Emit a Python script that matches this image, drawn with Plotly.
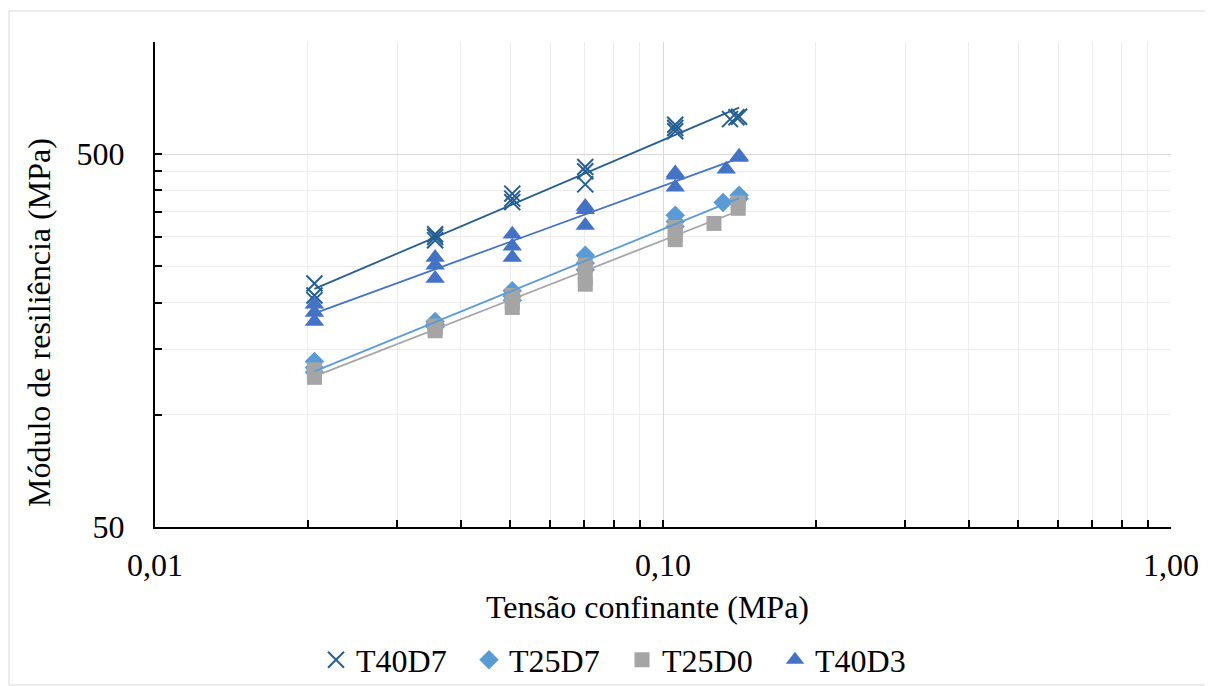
import numpy as np
import plotly.graph_objects as go

# ---- data ----
x_T40D7 = [0.0206, 0.0206, 0.0206, 0.0356, 0.0356, 0.0356, 0.0505, 0.0505, 0.0505,
           0.0703, 0.0703, 0.0703, 0.1057, 0.1057, 0.1057, 0.1355, 0.1395, 0.1412]
y_T40D7 = [225, 209, 203, 305, 300, 294, 392, 380, 372,
           462, 450, 415, 600, 588, 576, 621, 628, 630]

x_T25D7 = [0.0206, 0.0206, 0.0206, 0.0356, 0.0356, 0.0356, 0.0505, 0.0505, 0.0505,
           0.0703, 0.0703, 0.0703, 0.1057, 0.1057, 0.1057, 0.1313, 0.1412, 0.1412]
y_T25D7 = [139, 134, 130, 178, 175, 172, 215, 208, 203,
           268, 255, 245, 343, 330, 320, 371, 388, 380]

x_T25D0 = [0.0206, 0.0206, 0.0206, 0.0356, 0.0356, 0.0356, 0.0505, 0.0505, 0.0505,
           0.0703, 0.0703, 0.0703, 0.1057, 0.1057, 0.1057, 0.1260, 0.1406, 0.1406]
y_T25D0 = [132, 128, 126, 173, 170, 168, 209, 200, 194,
           252, 233, 224, 318, 305, 295, 326, 370, 358]

x_T40D3 = [0.0206, 0.0206, 0.0206, 0.0356, 0.0356, 0.0356, 0.0505, 0.0505, 0.0505,
           0.0703, 0.0703, 0.0703, 0.1057, 0.1057, 0.1057, 0.1332, 0.1412, 0.1412]
y_T40D3 = [198, 188, 178, 264, 252, 232, 305, 283, 264,
           362, 355, 322, 445, 439, 408, 456, 494, 490]

x_major = [0.01, 0.1, 1.0]
x_major_text = ["0,01", "0,10", "1,00"]
x_minor = [0.02, 0.03, 0.04, 0.05, 0.06, 0.07, 0.08, 0.09,
           0.2, 0.3, 0.4, 0.5, 0.6, 0.7, 0.8, 0.9]
y_major = [50, 500]
y_major_text = ["50", "500"]
y_minor = [100, 150, 200, 250, 300, 350, 400, 450, 1000]

series = [
    ("T40D7", x_T40D7, y_T40D7, "#255E91", "x-thin", 16),
    ("T25D7", x_T25D7, y_T25D7, "#5B9BD5", "diamond", 15),
    ("T25D0", x_T25D0, y_T25D0, "#A5A5A5", "square", 15),
    ("T40D3", x_T40D3, y_T40D3, "#4472C4", "triangle-up", 17),
]

FONT = "Liberation Serif, Times New Roman, serif"
FS = 32
fig = go.Figure()

for name, xs, ys, col, sym, sz in series:
    marker = dict(symbol=sym, size=sz, color=col)
    if sym == "x-thin":
        marker["line"] = dict(color=col, width=2)
    else:
        marker["line"] = dict(width=0)
    fig.add_trace(go.Scatter(x=xs, y=ys, mode="markers", name=name, marker=marker))

# power trendlines (fit in log-log space)
for name, xs, ys, col, sym, sz in series:
    lx = np.log10(np.array(xs))
    ly = np.log10(np.array(ys))
    m, b = np.polyfit(lx, ly, 1)
    xe = np.array([min(xs), max(xs)])
    ye = 10 ** (b + m * np.log10(xe))
    fig.add_trace(go.Scatter(x=xe, y=ye, mode="lines", showlegend=False,
                             line=dict(color=col, width=1.8), hoverinfo="skip"))

axis_common = dict(
    type="log", showline=True, linecolor="black", linewidth=2,
    ticks="inside", ticklen=7, tickwidth=2, tickcolor="black",
    showgrid=True, gridcolor="#D9D9D9", gridwidth=1, zeroline=False,
    automargin=False,
    tickfont=dict(family=FONT, size=FS, color="black"),
)

fig.update_xaxes(
    **axis_common,
    range=[-2, 0],
    tickvals=x_major, ticktext=x_major_text,
    ticklabelstandoff=9,
    minor=dict(tickvals=x_minor, ticks="inside", ticklen=7, tickwidth=2,
               tickcolor="black", showgrid=True, gridcolor="#EDEDED", gridwidth=1),
)
fig.update_yaxes(
    **axis_common,
    range=[np.log10(50), 3],
    tickvals=y_major, ticktext=y_major_text,
    ticklabelstandoff=22,
    minor=dict(tickvals=y_minor, ticks="inside", ticklen=7, tickwidth=2,
               tickcolor="black", showgrid=True, gridcolor="#EDEDED", gridwidth=1),
)

# page body adds an 8px offset; figure is sized so that the plot area lands
# at screen x 155..1171, y 42..527
OFF = 8
W, H = 1213 - OFF, 686 - OFF
L, T = 155, 42          # screen coordinates of plot area
pw, ph = 1016, 485
mL, mT = L - OFF, T - OFF
mR = W - mL - pw
mB = H - mT - ph

def px(xs):
    return (xs - L) / pw

def py(ys):
    return (T + ph - ys) / ph

fig.add_annotation(text="Tensão confinante (MPa)", xref="paper", yref="paper",
                   x=px(647), y=py(607), xanchor="center", yanchor="middle",
                   showarrow=False, font=dict(family=FONT, size=FS, color="black"))
fig.add_annotation(text="Módulo de resiliência (MPa)", xref="paper", yref="paper",
                   x=px(39), y=py(323), xanchor="center", yanchor="middle",
                   textangle=-90, showarrow=False,
                   font=dict(family=FONT, size=FS, color="black"))

fig.add_shape(type="rect", xref="paper", yref="paper",
              x0=px(9), x1=px(1207), y0=py(685), y1=py(11),
              line=dict(color="#D9D9D9", width=1), layer="below")

fig.update_layout(
    width=W, height=H,
    margin=dict(l=mL, r=mR, t=mT, b=mB, autoexpand=False),
    paper_bgcolor="white", plot_bgcolor="white",
    font=dict(family=FONT, size=FS, color="black"),
    showlegend=True,
    legend=dict(orientation="h", x=px(316), y=py(660), xanchor="left", yanchor="middle",
                font=dict(family=FONT, size=FS, color="black"),
                entrywidth=108, entrywidthmode="pixels", itemwidth=30,
                bgcolor="rgba(0,0,0,0)"),
)

fig.write_html("out.html")
